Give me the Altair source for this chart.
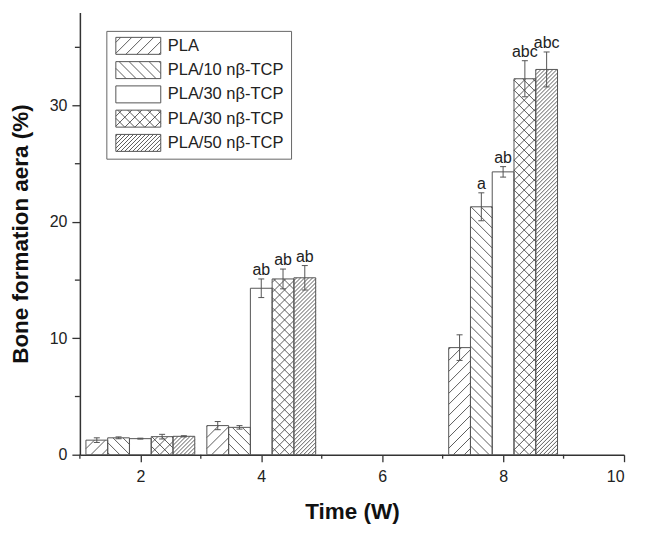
import altair as alt
import pandas as pd

# ---------------- data ----------------
weeks = [2, 4, 8]
series = ["PLA", "PLA/10 nβ-TCP", "PLA/30 nβ-TCP", "PLA/30 nβ-TCP", "PLA/50 nβ-TCP"]

means_w2 = [1.25, 1.45, 1.38, 1.55, 1.58]
err_w2 = [0.2, 0.08, 0.04, 0.2, 0.05]
means_w4 = [2.5, 2.35, 14.3, 15.1, 15.2]
err_w4 = [0.35, 0.15, 0.8, 0.85, 1.05]
means_w8 = [9.2, 21.3, 24.3, 32.3, 33.1]
err_w8 = [1.1, 1.2, 0.45, 1.55, 1.5]
labels_w2 = ["", "", "", "", ""]
labels_w4 = ["", "", "ab", "ab", "ab"]
labels_w8 = ["", "a", "ab", "abc", "abc"]

x_ticks = [2, 4, 6, 8, 10]
x_minor = [1, 3, 5, 7, 9]
y_ticks = [0, 10, 20, 30]
y_minor = [5, 15, 25, 35]

# ---------------- layout / style ----------------
W, H = 545, 443
XMIN, XMAX = 1, 10
YMIN, YMAX = 0, 38
SX = W / (XMAX - XMIN)
SY = H / (YMAX - YMIN)
BAR_W = 0.36
FONT = "Liberation Sans"
LINE = "#333333"

# hatch styles per series: (directions, spacing px)
patterns = [(["/"], 11), (["\\"], 10), ([], 0), (["/", "\\"], 10), (["/"], 4)]


def hatch_segments(x0, x1, y0, y1, dirs, spacing):
    """Pixel-space rect (y up). Return list of segments clipped to rect."""
    segs = []
    if spacing <= 0:
        return segs
    for d in dirs:
        if d == "/":
            cmin, cmax = y0 - x1, y1 - x0
            k = int(cmin // spacing) + 1
            while k * spacing < cmax:
                c = k * spacing
                xa, xb = max(x0, y0 - c), min(x1, y1 - c)
                if xb - xa > 0.3:
                    segs.append((xa, xa + c, xb, xb + c))
                k += 1
        else:
            cmin, cmax = x0 + y0, x1 + y1
            k = int(cmin // spacing) + 1
            while k * spacing < cmax:
                c = k * spacing
                xa, xb = max(x0, c - y1), min(x1, c - y0)
                if xb - xa > 0.3:
                    segs.append((xa, c - xa, xb, c - xb))
                k += 1
    return segs


def px_to_x(px):
    return XMIN + px / SX


def pyup_to_y(py):
    return YMIN + py / SY


def pydown_to_y(py):
    return YMAX - py / SY


# bars table
rows, hrows = [], []
all_means = [means_w2, means_w4, means_w8]
all_errs = [err_w2, err_w4, err_w8]
all_labels = [labels_w2, labels_w4, labels_w8]
for wi, wk in enumerate(weeks):
    for si, s in enumerate(series):
        c = wk + (si - 2) * BAR_W
        v = all_means[wi][si]
        e = all_errs[wi][si]
        rows.append(dict(series=si, name=s, xc=c, x0=c - BAR_W / 2, x1=c + BAR_W / 2,
                         y0=0.0, y1=v, lo=v - e, hi=v + e,
                         c0=c - 3 / SX, c1=c + 3 / SX, label=all_labels[wi][si]))
        dirs, sp = patterns[si]
        px0, px1 = (c - BAR_W / 2 - XMIN) * SX, (c + BAR_W / 2 - XMIN) * SX
        for (a, b, cc, d) in hatch_segments(px0, px1, 0, v * SY, dirs, sp):
            hrows.append(dict(hx0=px_to_x(a), hy0=pyup_to_y(b), hx1=px_to_x(cc), hy1=pyup_to_y(d)))
bars_df = pd.DataFrame(rows)
hatch_df = pd.DataFrame(hrows)

# legend (pixel layout relative to plot area, y down)
LBOX = (27, 212, 19, 147)
lrows, lhrows = [], []
for si, s in enumerate(series):
    cy = 33.5 + 24.3 * si
    sx0, sx1, sy0, sy1 = 36, 81, cy - 8.5, cy + 8.5
    lrows.append(dict(x0=px_to_x(sx0), x1=px_to_x(sx1), y0=pydown_to_y(sy0), y1=pydown_to_y(sy1),
                      tx=px_to_x(88), ty=pydown_to_y(cy), name=s))
    dirs, sp = patterns[si]
    for (a, b, cc, d) in hatch_segments(sx0, sx1, -sy1, -sy0, dirs, sp):
        lhrows.append(dict(hx0=px_to_x(a), hy0=pydown_to_y(-b), hx1=px_to_x(cc), hy1=pydown_to_y(-d)))
leg_df = pd.DataFrame(lrows)
leg_hatch_df = pd.DataFrame(lhrows)
box_df = pd.DataFrame([dict(x0=px_to_x(LBOX[0]), x1=px_to_x(LBOX[1]),
                            y0=pydown_to_y(LBOX[2]), y1=pydown_to_y(LBOX[3]))])
xminor_df = pd.DataFrame(dict(v=x_minor))
yminor_df = pd.DataFrame(dict(v=y_minor))

# ---------------- encodings ----------------
x_scale = alt.Scale(domain=[XMIN, XMAX], nice=False, zero=False)
y_scale = alt.Scale(domain=[YMIN, YMAX], nice=False, zero=False)
x_axis = alt.Axis(values=x_ticks, format="d", grid=False, tickSize=7, tickWidth=1.3,
                  tickColor=LINE, domainColor=LINE, domainWidth=1.5, labelFontSize=16,
                  labelFont=FONT, labelColor="#222", labelPadding=7,
                  titleFontSize=22.5, titleFont=FONT, titleFontWeight="bold",
                  titleColor="#111", titlePadding=16)
y_axis = alt.Axis(values=y_ticks, format="d", grid=False, tickSize=8, tickWidth=1.3,
                  tickColor=LINE, domainColor=LINE, domainWidth=1.5, labelFontSize=16,
                  labelFont=FONT, labelColor="#222", labelPadding=5,
                  titleFontSize=22.5, titleFont=FONT, titleFontWeight="bold",
                  titleColor="#111", titleX=-47, titleY=H / 2)


def X(f):
    return alt.X(f, type="quantitative", scale=x_scale, axis=x_axis, title="Time (W)")


def Y(f):
    return alt.Y(f, type="quantitative", scale=y_scale, axis=y_axis, title="Bone formation aera (%)")


bars_fill = alt.Chart(bars_df).mark_rect(fill="white").encode(x=X("x0"), x2="x1", y=Y("y0"), y2="y1")
hatch = alt.Chart(hatch_df).mark_rule(stroke=LINE, strokeWidth=0.8).encode(
    x=X("hx0"), x2="hx1", y=Y("hy0"), y2="hy1")
bars_edge = alt.Chart(bars_df).mark_rect(fill=None, stroke="#555", strokeWidth=1).encode(
    x=X("x0"), x2="x1", y=Y("y0"), y2="y1")
err_v = alt.Chart(bars_df).mark_rule(stroke="#555", strokeWidth=1).encode(x=X("xc"), y=Y("lo"), y2="hi")
err_top = alt.Chart(bars_df).mark_rule(stroke="#555", strokeWidth=1).encode(x=X("c0"), x2="c1", y=Y("hi"))
err_bot = alt.Chart(bars_df).mark_rule(stroke="#555", strokeWidth=1).encode(x=X("c0"), x2="c1", y=Y("lo"))
ann = alt.Chart(bars_df).mark_text(font=FONT, fontSize=16, color="#222", baseline="alphabetic",
                                   dy=-4).encode(x=X("xc"), y=Y("hi"), text="label:N")

xminor = alt.Chart(xminor_df).mark_rule(stroke=LINE, strokeWidth=1.3).encode(
    x=X("v"), y=alt.value(H), y2=alt.value(H + 4))
yminor = alt.Chart(yminor_df).mark_rule(stroke=LINE, strokeWidth=1.3).encode(
    y=Y("v"), x=alt.value(0), x2=alt.value(-5))

leg_box = alt.Chart(box_df).mark_rect(fill="white", stroke="#666", strokeWidth=1).encode(
    x=X("x0"), x2="x1", y=Y("y0"), y2="y1")
leg_fill = alt.Chart(leg_df).mark_rect(fill="white").encode(x=X("x0"), x2="x1", y=Y("y0"), y2="y1")
leg_hatch = alt.Chart(leg_hatch_df).mark_rule(stroke=LINE, strokeWidth=0.8).encode(
    x=X("hx0"), x2="hx1", y=Y("hy0"), y2="hy1")
leg_edge = alt.Chart(leg_df).mark_rect(fill=None, stroke="#555", strokeWidth=1).encode(
    x=X("x0"), x2="x1", y=Y("y0"), y2="y1")
leg_text = alt.Chart(leg_df).mark_text(font=FONT, fontSize=16.5, color="#222", align="left",
                                       baseline="middle").encode(x=X("tx"), y=Y("ty"), text="name:N")

chart = alt.layer(
    bars_fill, hatch, bars_edge, err_v, err_top, err_bot, ann, xminor, yminor,
    leg_box, leg_fill, leg_hatch, leg_edge, leg_text
).properties(
    width=W, height=H,
    autosize=alt.AutoSizeParams(type="none"),
    padding={"left": 72, "top": 4, "right": 14, "bottom": 75},
    background="white",
).configure_view(stroke=None)

chart.save("out.html", embed_options={"renderer": "svg", "actions": False})
